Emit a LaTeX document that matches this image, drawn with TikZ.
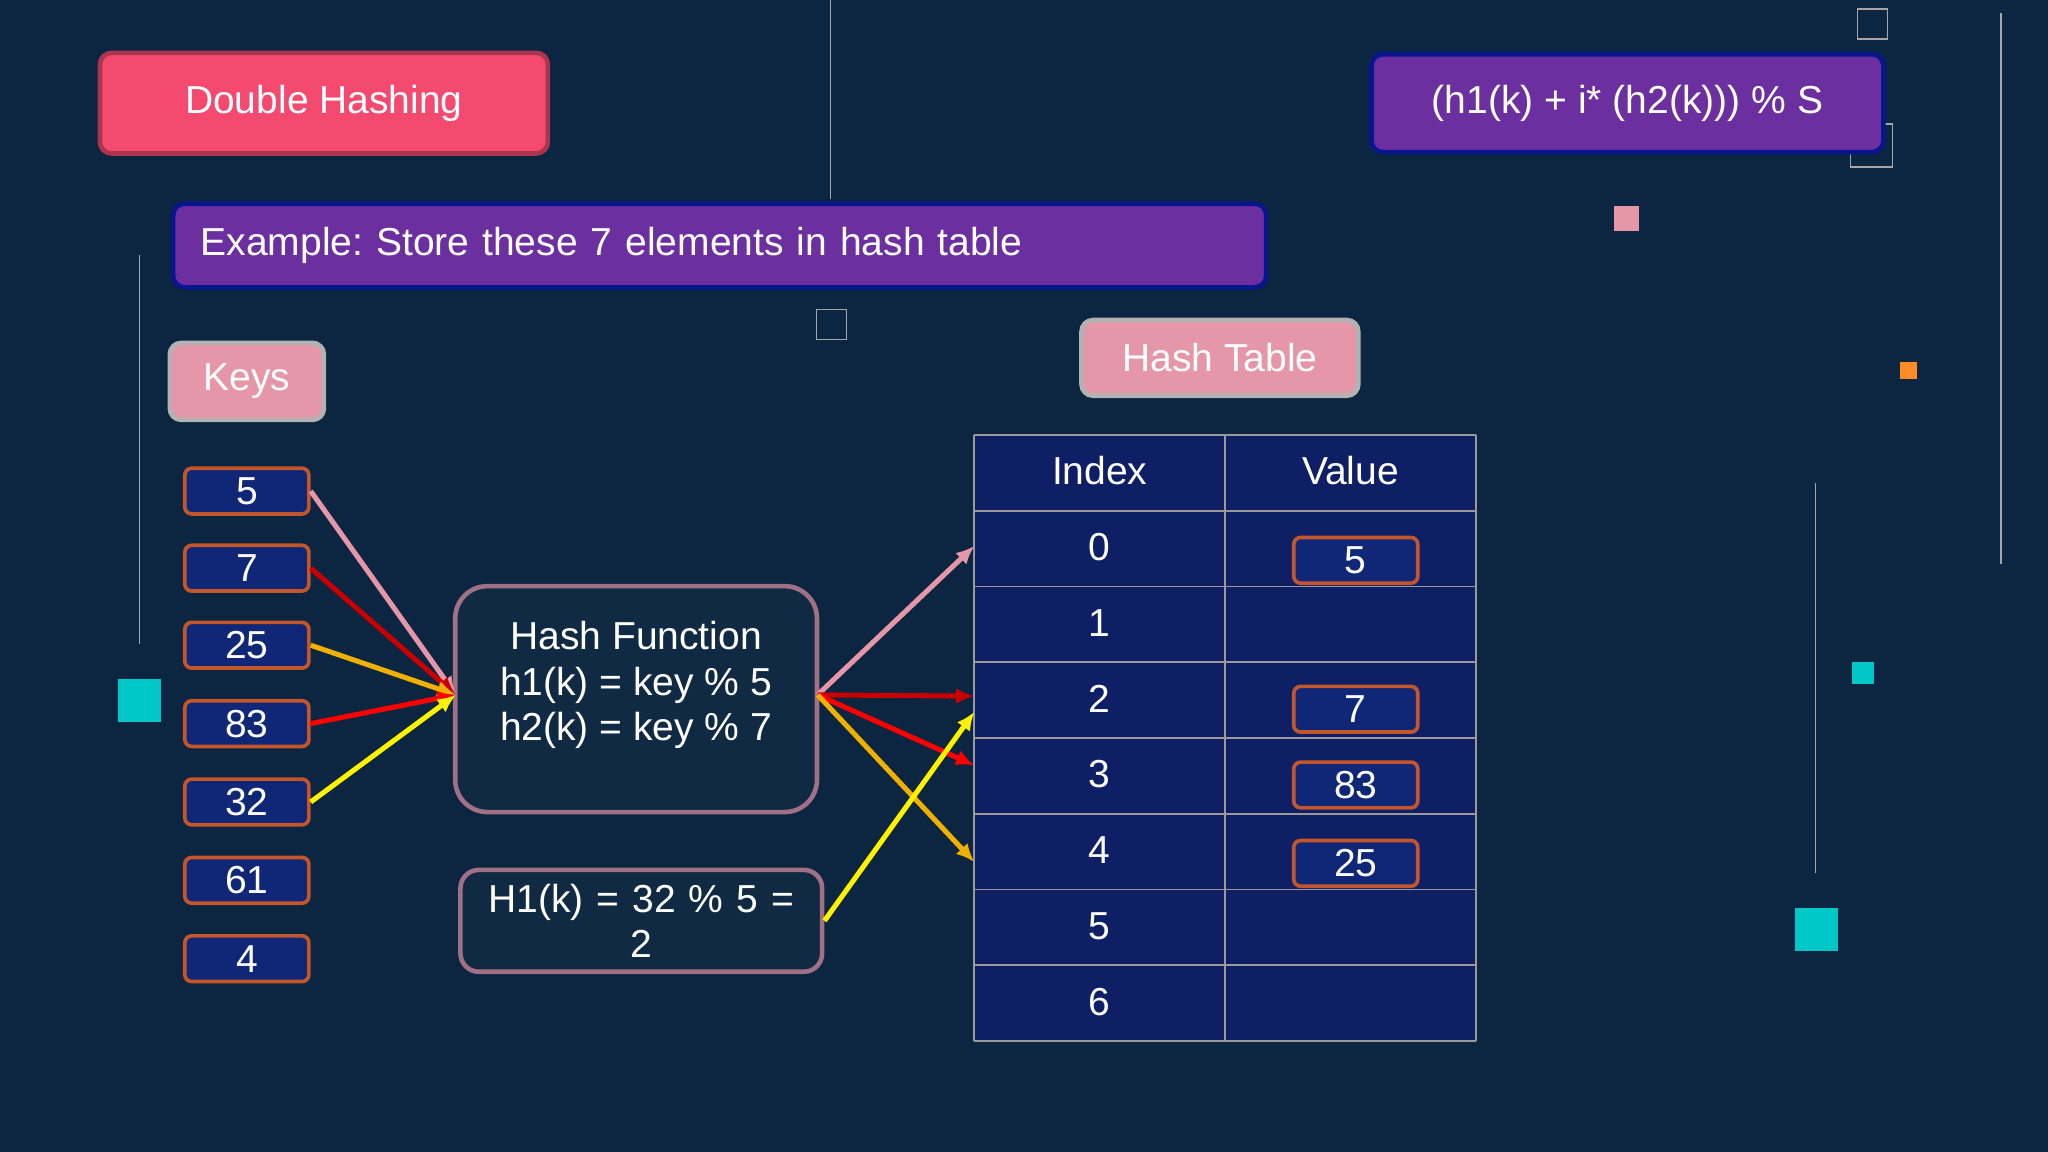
\documentclass[tikz,border=0pt]{standalone}
\usepackage{fontspec}
\setmainfont{Liberation Sans}
\usetikzlibrary{arrows.meta}
\frenchspacing
\definecolor{bg}{RGB}{12,37,64}
\definecolor{pinkred}{RGB}{244,74,111}
\definecolor{purp}{RGB}{108,47,160}
\definecolor{lpink}{RGB}{229,150,168}
\definecolor{keyfill}{RGB}{16,38,118}
\definecolor{keyline}{RGB}{196,86,44}
\definecolor{hfill}{RGB}{17,42,68}
\definecolor{mauve}{RGB}{160,112,133}
\definecolor{tfill}{RGB}{14,31,102}
\definecolor{cyanq}{RGB}{0,200,200}
\definecolor{orng}{RGB}{240,176,0}
\definecolor{darkred}{RGB}{200,0,0}
\begin{document}
\begin{tikzpicture}[x=0.02cm,y=-0.02cm,
  txt/.style={text=white,font=\fontsize{17}{20}\selectfont},
  key/.style={txt,draw=keyline,line width=1.6pt,fill=keyfill,rounded corners=3pt,minimum width=1.9cm,minimum height=0.7cm,inner sep=0pt},
  ar/.style={line width=2.2pt,-{Latex[length=8pt,width=7pt]}},
  deco/.style={draw=gray!70,line width=0.6pt}]
\fill[bg] (0,0) rectangle (1568,882);
\useasboundingbox (0,0) rectangle (1568,882);
% decorations
\draw[deco] (636,0) -- (636,152);
\draw[deco] (107,195) -- (107,493);
\draw[deco] (1532,10) -- (1532,432);
\draw[deco] (1390,370) -- (1390,668);
\fill[cyanq] (90,520) rectangle (123,553);
\fill[cyanq] (1374,695) rectangle (1407,728);
\fill[cyanq] (1418,507) rectangle (1435,524);
\fill[lpink] (1236,158) rectangle (1255,177);
\fill[orange!80!pink] (1455,277) rectangle (1468,290);
\draw[deco] (1422,7) rectangle (1445,30);
\draw[deco] (625,237) rectangle (648,260);
\draw[deco] (1417,95) rectangle (1449,128);
% title boxes
\node[txt,draw=pinkred!70!black,fill=pinkred,line width=2pt,rounded corners=5pt,minimum width=6.86cm,minimum height=1.54cm] (dh) at (248,79) {Double Hashing};
\node[txt,draw=blue!40!bg,fill=purp,line width=2pt,rounded corners=5pt,minimum width=7.84cm,minimum height=1.5cm] (fm) at (1246,79) {(h1(k) + i* (h2(k))) \% S};
\node[txt,draw=blue!40!bg,fill=purp,line width=2pt,rounded corners=5pt,minimum width=16.74cm,minimum height=1.28cm,text width=15.9cm,align=left] (ex) at (551,188) {Example: Store these 7 elements in hash table};
\node[txt,draw=gray!60,fill=lpink,line width=2pt,rounded corners=5pt,minimum width=2.36cm,minimum height=1.18cm] (keys) at (189,292) {Keys};
\node[txt,draw=gray!60,fill=lpink,line width=2pt,rounded corners=5pt,minimum width=4.24cm,minimum height=1.16cm] (ht) at (934,274) {Hash Table};
% keys
\foreach \v/\y/\n in {5/376/k1,7/435/k2,25/494/k3,83/554/k4,32/614/k5,61/674/k6,4/734/k7}
  \node[key] (\n) at (189,\y) {\v};
% hash function
\node[txt,draw=mauve,fill=hfill,line width=2pt,rounded corners=14pt,minimum width=5.54cm,minimum height=3.46cm,align=center,anchor=north] (hf) at (487,447) {\\[-1.33cm]Hash Function\\h1(k) = key \% 5\\h2(k) = key \% 7};
\node[txt,draw=mauve,fill=hfill,line width=2pt,rounded corners=8pt,minimum width=5.54cm,minimum height=1.56cm,align=center,text width=5.2cm] (h1) at (491,705) {H1(k) = 32 \% 5 =\\2};
% table
\fill[tfill] (746,333) rectangle (1130,797);
\foreach \y in {333,391,449,507,565,623,681,739,797} \draw[gray!80,line width=0.8pt] (746,\y) -- (1130,\y);
\foreach \x in {746,938,1130} \draw[gray!80,line width=0.8pt] (\x,333) -- (\x,797);
\node[txt] (hi) at (842,360) {Index};
\node[txt] (hv) at (1034,360) {Value};
\foreach \i in {0,...,6} \node[txt] (r\i) at (842,{419+58*\i}) {\i};
\node[key] (v0) at (1038,429) {5};
\node[key] (v2) at (1038,543) {7};
\node[key] (v3) at (1038,601) {83};
\node[key] (v4) at (1038,661) {25};
\coordinate (hin) at (349,532);
\coordinate (hout) at (626,532);
\coordinate (t0) at (746,418);
\coordinate (t2) at (746,533);
\coordinate (t3) at (746,586);
\coordinate (t4) at (746,660);
\coordinate (t2b) at (746,545);
% arrows
\draw[ar,lpink] (k1.east) -- (hin);
\draw[ar,darkred] (k2.east) -- (hin);
\draw[ar,orng] (k3.east) -- (hin);
\draw[ar,red] (k4.east) -- (hin);
\draw[ar,yellow] (k5.east) -- (hin);
\draw[ar,lpink] (hout) -- (t0);
\draw[ar,darkred] (hout) -- (t2);
\draw[ar,red] (hout) -- (t3);
\draw[ar,orng] (hout) -- (t4);
\draw[ar,yellow] (h1.east) -- (t2b);
\end{tikzpicture}
\end{document}
